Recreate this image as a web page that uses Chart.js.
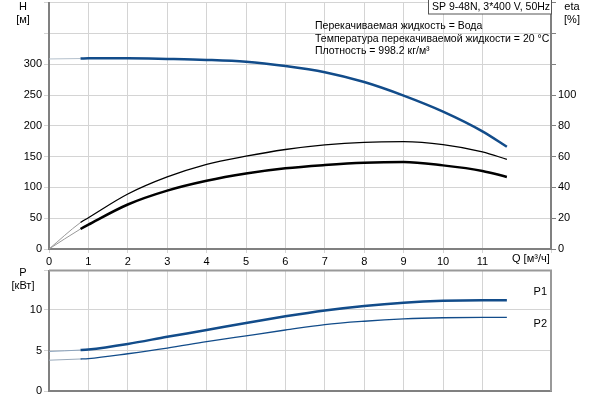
<!DOCTYPE html>
<html>
<head>
<meta charset="utf-8">
<script src="https://cdn.jsdelivr.net/npm/chart.js@4"></script>
<style>
  body { margin: 0; background: #fff; width: 600px; height: 400px; overflow: hidden; position: relative; }
  canvas { position: absolute; left: 0; }
  #topChart { top: 0; }
  #botChart { top: 262px; }
</style>
</head>
<body>
<canvas id="topChart" width="600" height="266"></canvas>
<canvas id="botChart" width="600" height="138"></canvas>
<script>
// Q values [m3/h]
const flow = [0, 0.8, 1, 2, 3, 4, 5, 6, 7, 8, 9, 10, 11, 11.62];
// head H [m]
const head = [308.5, 309.2, 309.5, 309.5, 308.5, 307, 304, 297, 287, 271, 249, 223, 191, 166];
// efficiencies [%]
const etaPump = [0, 17.2, 20.3, 35.7, 46.8, 55, 60.3, 64.6, 67.6, 69.3, 69.7, 67.8, 63.1, 58.2];
const etaTotal = [0, 13.0, 15.8, 28.9, 37.9, 44.3, 49, 52.4, 54.5, 56, 56.5, 54.3, 50.7, 46.8];
// power [kW]
const powerP1 = [4.88, 5.05, 5.12, 5.8, 6.67, 7.5, 8.37, 9.17, 9.88, 10.43, 10.83, 11.07, 11.15, 11.15];
const powerP2 = [3.81, 3.96, 4.01, 4.6, 5.28, 6.07, 6.79, 7.5, 8.17, 8.57, 8.85, 9.0, 9.05, 9.05];

const infoLines = ["Перекачиваемая жидкость = Вода", "Температура перекачиваемой жидкости = 20 °C", "Плотность = 998.2 кг/м³"];
const titleText = "SP 9-48N, 3*400 V, 50Hz";

Chart.defaults.font.family = 'Arial, "Liberation Sans", sans-serif';
Chart.defaults.font.size = 11;
Chart.defaults.color = '#000';

const blue = '#124c8a';
const gridCol = '#d4d4d4';
const axisCol = '#808080';

const pts = arr => arr.map((v, i) => ({x: flow[i], y: v}));

// hidden ticks get a tiny font so they add no padding
const tickFont = limit => c => ({ size: (c.tick && c.tick.value > limit) ? 1 : 11 });

// start of the curves (below 0.8) is drawn light and thin
function curve(data, color, width, light, axis) {
  return {
    data: pts(data), yAxisID: axis, borderColor: color, borderWidth: width,
    pointRadius: 0, cubicInterpolationMode: 'monotone', fill: false,
    segment: {
      borderColor: c => c.p0.parsed.x < 0.8 ? light : undefined,
      borderWidth: c => c.p0.parsed.x < 0.8 ? 1 : undefined
    }
  };
}

const textPlugin = {
  id: 'texts',
  afterDraw(chart) {
    const ctx = chart.ctx;
    const a = chart.chartArea;
    ctx.save();
    ctx.fillStyle = '#000';
    ctx.font = '11px Arial, "Liberation Sans", sans-serif';
    ctx.textBaseline = 'middle';
    ctx.textAlign = 'center';
    ctx.fillText('H', 23, 7);
    ctx.fillText('[м]', 23, 20);
    ctx.fillText('eta', 572, 7);
    ctx.fillText('[%]', 572, 20);
    ctx.textAlign = 'left';
    ctx.fillText('Q [м³/ч]', 512, 259);
    ctx.font = '10.5px Arial, "Liberation Sans", sans-serif';
    infoLines.forEach((t, i) => ctx.fillText(t, 315, 26 + i * 12.7));
    // title box
    ctx.fillStyle = '#fff';
    ctx.fillRect(428, 0, a.right - 428, 14);
    ctx.strokeStyle = '#555';
    ctx.lineWidth = 1;
    ctx.strokeRect(428.5, -1, a.right - 428, 15);
    ctx.fillStyle = '#000';
    ctx.fillText(titleText, 432, 7.5);
    ctx.restore();
  }
};

new Chart(document.getElementById('topChart'), {
  type: 'line',
  data: {
    datasets: [
      curve(head, blue, 2.5, '#b4c0cc', 'y'),
      curve(etaPump, '#000', 1.3, '#999', 'eta'),
      curve(etaTotal, '#000', 2.5, '#999', 'eta')
    ]
  },
  options: {
    responsive: false, animation: false,
    layout: { padding: 0 },
    plugins: { legend: { display: false }, tooltip: { enabled: false } },
    scales: {
      x: {
        type: 'linear', min: 0, max: 12.74,
        ticks: { stepSize: 1, padding: 2, maxRotation: 0, autoSkip: false,
          callback: v => (Number.isInteger(v) && v <= 11) ? v : '' },
        grid: { color: gridCol, tickLength: 4 },
        border: { color: axisCol, width: 2 },
        afterFit: s => { s.height = 17; }
      },
      y: {
        position: 'left', min: 0, max: 400,
        ticks: { stepSize: 50, padding: 2, font: tickFont(300), callback: v => v <= 300 ? v : '' },
        grid: { color: gridCol, tickLength: 5 },
        border: { color: axisCol, width: 2 },
        afterFit: s => { s.width = 49; }
      },
      eta: {
        position: 'right', min: 0, max: 160,
        ticks: { stepSize: 20, padding: 2, font: tickFont(100), callback: v => v <= 100 ? v : '' },
        grid: { drawOnChartArea: false, tickLength: 5, color: axisCol },
        border: { color: axisCol, width: 2 },
        afterFit: s => { s.width = 49; }
      }
    }
  },
  plugins: [textPlugin]
});

const boxPlugin = {
  id: 'box',
  afterDraw(chart) {
    const ctx = chart.ctx;
    const a = chart.chartArea;
    ctx.save();
    ctx.strokeStyle = '#999';
    ctx.lineWidth = 2;
    ctx.beginPath();
    ctx.moveTo(a.left, a.top);
    ctx.lineTo(a.right, a.top);
    ctx.lineTo(a.right, a.bottom);
    ctx.stroke();
    ctx.fillStyle = '#000';
    ctx.font = '11px Arial, "Liberation Sans", sans-serif';
    ctx.textBaseline = 'middle';
    ctx.textAlign = 'right';
    ctx.fillText('P1', a.right - 4, 30);
    ctx.fillText('P2', a.right - 4, 62);
    ctx.textAlign = 'center';
    ctx.fillText('P', 23, 11);
    ctx.fillText('[кВт]', 23, 24);
    ctx.restore();
  }
};

new Chart(document.getElementById('botChart'), {
  type: 'line',
  data: {
    datasets: [
      curve(powerP1, blue, 2.5, '#8aa2bc', 'y'),
      curve(powerP2, blue, 1.3, '#9aaabb', 'y')
    ]
  },
  options: {
    responsive: false, animation: false,
    layout: { padding: { top: 6, right: 49, left: 0, bottom: 0 } },
    plugins: { legend: { display: false }, tooltip: { enabled: false } },
    scales: {
      x: {
        type: 'linear', min: 0, max: 12.74,
        ticks: { display: false, stepSize: 1 },
        grid: { color: gridCol, drawTicks: false },
        border: { color: axisCol, width: 2 },
        afterFit: s => { s.height = 8; }
      },
      y: {
        position: 'left', min: 0, max: 14.76,
        ticks: { stepSize: 5, padding: 2, callback: v => (v % 5 === 0) ? v : '' },
        grid: { color: gridCol, tickLength: 5 },
        border: { color: axisCol, width: 2 },
        afterFit: s => { s.width = 49; }
      }
    }
  },
  plugins: [boxPlugin]
});
</script>
</body>
</html>
